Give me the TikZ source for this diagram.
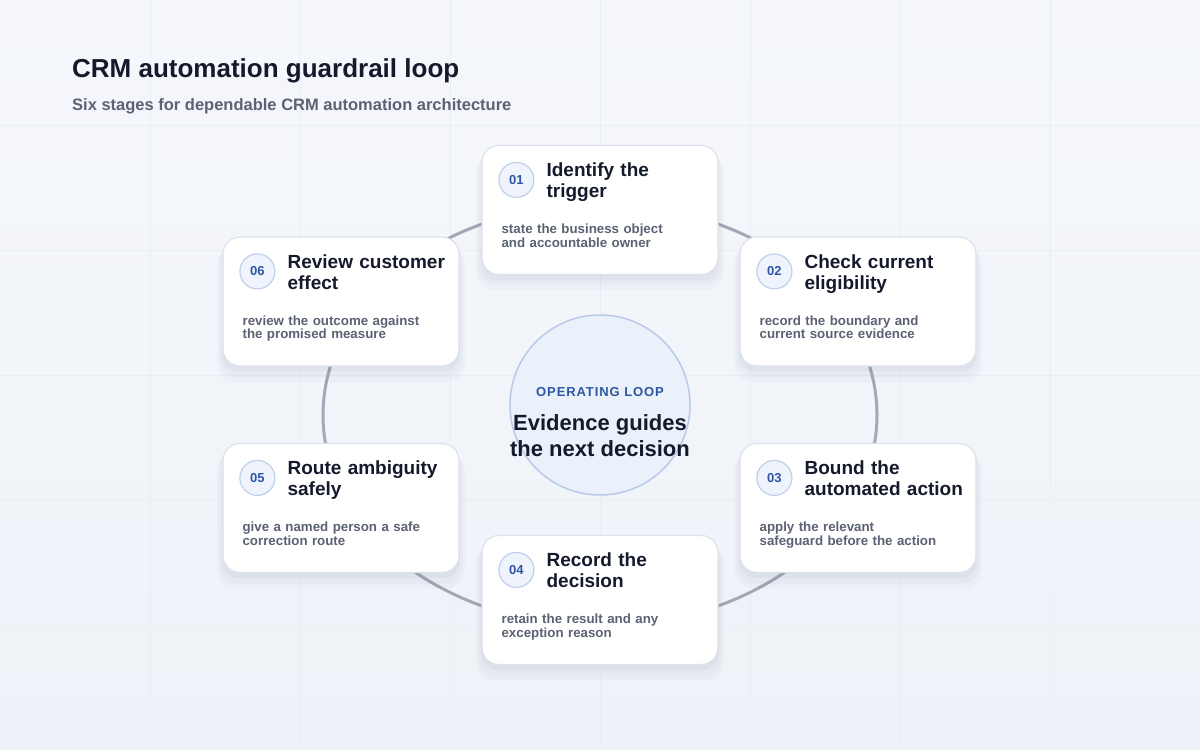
\documentclass[tikz,border=0pt]{standalone}
\usepackage{fontspec}
\setmainfont{Liberation Sans}
\newfontfamily\spacedfont[LetterSpace=7]{Liberation Sans}
\usetikzlibrary{positioning}
\usetikzlibrary{shadows}
\usetikzlibrary{calc}

\definecolor{ink}{HTML}{141A2B}
\definecolor{muted}{HTML}{5B6273}
\definecolor{accent}{HTML}{2F55A4}
\definecolor{ringcol}{HTML}{A2A8B5}
\definecolor{cardline}{HTML}{DCE2EC}
\definecolor{badgefill}{HTML}{EEF3FC}
\definecolor{badgeline}{HTML}{BFCFEC}
\definecolor{hubfill}{HTML}{EAF1FB}
\definecolor{hubline}{HTML}{B8C9E9}
\definecolor{gridcol}{HTML}{EAEDF4}
\definecolor{bgtop}{HTML}{F5F7FB}
\definecolor{bgbot}{HTML}{EEF2F8}
\definecolor{shadowcol}{HTML}{5A6A8C}

\tikzstyle{card}=[rectangle,rounded corners=17pt,fill=white,draw=cardline,line width=1.2pt,minimum width=236pt,minimum height=129pt,inner sep=0pt,
   drop shadow={shadow xshift=0pt,shadow yshift=-12pt,shadow scale=1.05,fill=shadowcol,opacity=0.03},
   drop shadow={shadow xshift=0pt,shadow yshift=-9pt,shadow scale=1.03,fill=shadowcol,opacity=0.04},
   drop shadow={shadow xshift=0pt,shadow yshift=-5pt,shadow scale=1.01,fill=shadowcol,opacity=0.05}]
\tikzstyle{badge}=[circle,fill=badgefill,draw=badgeline,line width=1.2pt,minimum size=35pt,inner sep=0pt,text=accent,font=\fontsize{13}{13}\selectfont\bfseries]
\tikzstyle{steptitle}=[anchor=north west,inner sep=0pt,text width=168pt,align=left,text=ink,font=\fontsize{19}{21}\selectfont\bfseries]
\tikzstyle{stepbody}=[anchor=north west,inner sep=0pt,text width=210pt,align=left,text=muted,font=\fontsize{13.3}{13.4}\selectfont\bfseries]
\tikzstyle{hub}=[circle,fill=hubfill,draw=hubline,line width=1.5pt,minimum size=180pt,inner sep=0pt]
\tikzstyle{ring}=[draw=ringcol,line width=3pt]
\tikzstyle{gridline}=[draw=gridcol,line width=0.8pt]

\begin{document}
\begin{tikzpicture}[x=1pt,y=-1pt]

  \useasboundingbox (0,0) rectangle (1200,750);
  \shade[top color=bgtop, bottom color=bgbot] (0,0) rectangle (1200,750);

  % faint background grid
  \foreach \gx in {150,300,...,1050}
     \path[gridline] (\gx,0) -- (\gx,750);
  \foreach \gy in {125,250,...,625}
     \path[gridline] (0,\gy) -- (1200,\gy);

  % headings
  \node[anchor=base west,inner sep=0pt,text=ink,font=\fontsize{26}{30}\selectfont\bfseries] (heading) at (72,77) {CRM automation guardrail loop};
  \node[anchor=base west,inner sep=0pt,text=muted,font=\fontsize{16.5}{20}\selectfont\bfseries] (subheading) at (72,110) {Six stages for dependable CRM automation architecture};

  % the loop
  \path[ring] (600,415) ellipse [x radius=277pt, y radius=211pt];

  \node[hub] (hub) at (600,405) {};
  \node[inner sep=0pt,text=accent,font=\spacedfont\fontsize{13}{13}\selectfont\bfseries] (hubkicker) at (600,392) {OPERATING LOOP};
  \node[inner sep=0pt,align=center,text=ink,font=\fontsize{22}{26.7}\selectfont\bfseries] (hubtext) at (600,435.5) {Evidence guides\\the next decision};

  % stages
  \foreach \x/\y/\name/\num/\title/\body in {
      600/210/c1/01/{Identify the\\trigger}/{state the business object\\and accountable owner},
      858/301.5/c2/02/{Check current\\eligibility}/{record the boundary and\\current source evidence},
      858/508/c3/03/{Bound the\\automated action}/{apply the relevant\\safeguard before the action},
      600/600/c4/04/{Record the\\decision}/{retain the result and any\\exception reason},
      341/508/c5/05/{Route ambiguity\\safely}/{give a named person a safe\\correction route},
      341/301.5/c6/06/{Review customer\\effect}/{review the outcome against\\the promised measure}}
  {
     \node[card] (\name) at (\x,\y) {};
     \node[badge] (\name n) at ([xshift=35pt,yshift=-35pt]\name.north west) {\num};
     \node[steptitle] (\name t) at ([xshift=65pt,yshift=-18pt]\name.north west) {\title};
     \node[stepbody] (\name b) at ([xshift=20pt,yshift=-79pt]\name.north west) {\body};
  }

\end{tikzpicture}
\end{document}
